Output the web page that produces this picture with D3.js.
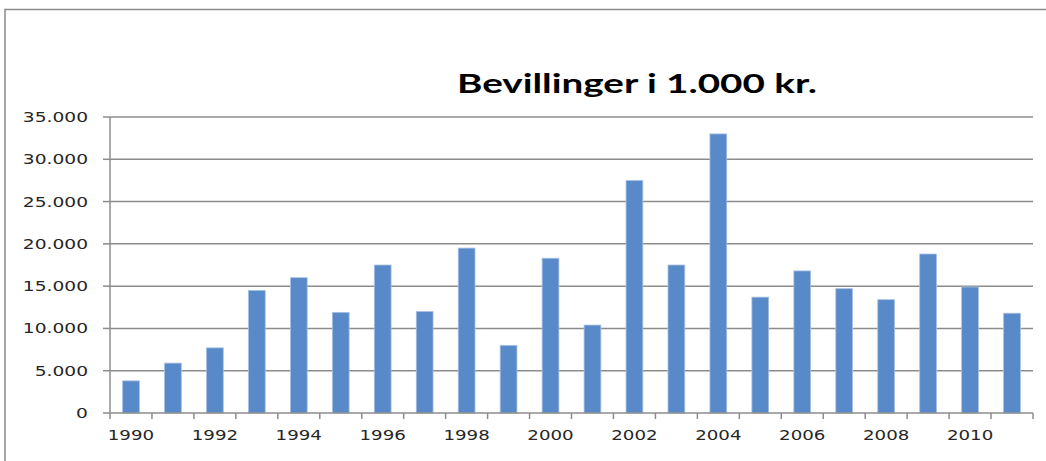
<!DOCTYPE html>
<html>
<head>
<meta charset="utf-8">
<script src="https://cdn.jsdelivr.net/npm/d3@7"></script>
<style>
  html, body { margin: 0; padding: 0; background: #fff; }
  svg { display: block; }
</style>
</head>
<body>
<svg id="chart" width="1046" height="461"></svg>
<script>
const title = "Bevillinger i 1.000 kr.";
const years = ["1990","1991","1992","1993","1994","1995","1996","1997","1998","1999","2000",
               "2001","2002","2003","2004","2005","2006","2007","2008","2009","2010","2011"];
const values = [3800, 5900, 7700, 14500, 16000, 11900, 17500, 12000, 19500, 8000, 18300,
                10400, 27500, 17500, 33000, 13700, 16800, 14700, 13400, 18800, 14900, 11800];
const xTickLabels = ["1990","1992","1994","1996","1998","2000","2002","2004","2006","2008","2010"];
const yTicks = [0, 5000, 10000, 15000, 20000, 25000, 30000, 35000];

const svg = d3.select("#chart");
const W = 1046, H = 461;
const plotLeft = 110, plotRight = 1033, plotTop = 117, plotBottom = 413;

const loc = d3.formatLocale({decimal: ",", thousands: ".", grouping: [3], currency: ["", " kr."]});
const fmt = loc.format(",d");

const x = d3.scaleBand().domain(years).range([plotLeft, plotRight]).paddingInner(0.6).paddingOuter(0.3);
const y = d3.scaleLinear().domain([0, 35000]).range([plotBottom, plotTop]);

// outer chart frame (partially visible)
svg.append("path")
  .attr("d", `M5,${H} L5,9.5 L${W},9.5`)
  .attr("fill", "none").attr("stroke", "#8a8a8a").attr("stroke-width", 1.5);

function stretch(sel, factor) {
  sel.each(function() {
    const w = this.getComputedTextLength();
    d3.select(this).attr("textLength", w * factor).attr("lengthAdjust", "spacingAndGlyphs");
  });
}

// gridlines
svg.append("g").selectAll("line").data(yTicks.filter(d => d > 0)).join("line")
  .attr("x1", plotLeft).attr("x2", plotRight)
  .attr("y1", d => y(d)).attr("y2", d => y(d))
  .attr("stroke", "#8c8c8c").attr("stroke-width", 1.5);

// bars
svg.append("g").selectAll("rect").data(years).join("rect")
  .attr("x", (d) => x(d))
  .attr("width", x.bandwidth())
  .attr("y", (d, i) => y(values[i]))
  .attr("height", (d, i) => y(0) - y(values[i]))
  .attr("fill", "#5889c8")
  .attr("stroke", "#a9c1e3").attr("stroke-width", 0.8);

// y axis line and ticks
svg.append("line").attr("x1", plotLeft).attr("x2", plotLeft).attr("y1", plotTop).attr("y2", plotBottom)
  .attr("stroke", "#8c8c8c").attr("stroke-width", 1.5);
svg.append("g").selectAll("line").data(yTicks).join("line")
  .attr("x1", plotLeft - 7).attr("x2", plotLeft)
  .attr("y1", d => y(d)).attr("y2", d => y(d))
  .attr("stroke", "#8c8c8c").attr("stroke-width", 1.5);

// y labels
const yl = svg.append("g").selectAll("text").data(yTicks).join("text")
  .attr("x", 88).attr("y", d => y(d) + 5)
  .attr("text-anchor", "end")
  .attr("font-family", "DejaVu Sans, Verdana, sans-serif")
  .attr("font-size", 14)
  .attr("fill", "#262626")
  .text(d => fmt(d));
stretch(yl, 1.33);

// x axis line
svg.append("line").attr("x1", plotLeft).attr("x2", plotRight).attr("y1", plotBottom).attr("y2", plotBottom)
  .attr("stroke", "#8c8c8c").attr("stroke-width", 1.5);
// x ticks at category boundaries
const boundaries = years.map(d => x(d) - x.bandwidth() * 0.75).concat([plotRight]);
svg.append("g").selectAll("line").data(boundaries).join("line")
  .attr("x1", d => d).attr("x2", d => d)
  .attr("y1", plotBottom).attr("y2", plotBottom + 6)
  .attr("stroke", "#8c8c8c").attr("stroke-width", 1.5);

// x labels
const xl = svg.append("g").selectAll("text").data(xTickLabels).join("text")
  .attr("x", d => x(d) + x.bandwidth() / 2)
  .attr("y", 440)
  .attr("text-anchor", "middle")
  .attr("font-family", "DejaVu Sans, Verdana, sans-serif")
  .attr("font-size", 14)
  .attr("fill", "#262626")
  .text(d => d);
stretch(xl, 1.3);

// title
svg.append("text")
  .attr("x", 637).attr("y", 93)
  .attr("text-anchor", "middle")
  .attr("font-family", "Lato, sans-serif")
  .attr("font-weight", "bold")
  .attr("font-size", 26)
  .attr("fill", "#000")
  .attr("textLength", 360).attr("lengthAdjust", "spacingAndGlyphs")
  .text(title);
</script>
</body>
</html>
